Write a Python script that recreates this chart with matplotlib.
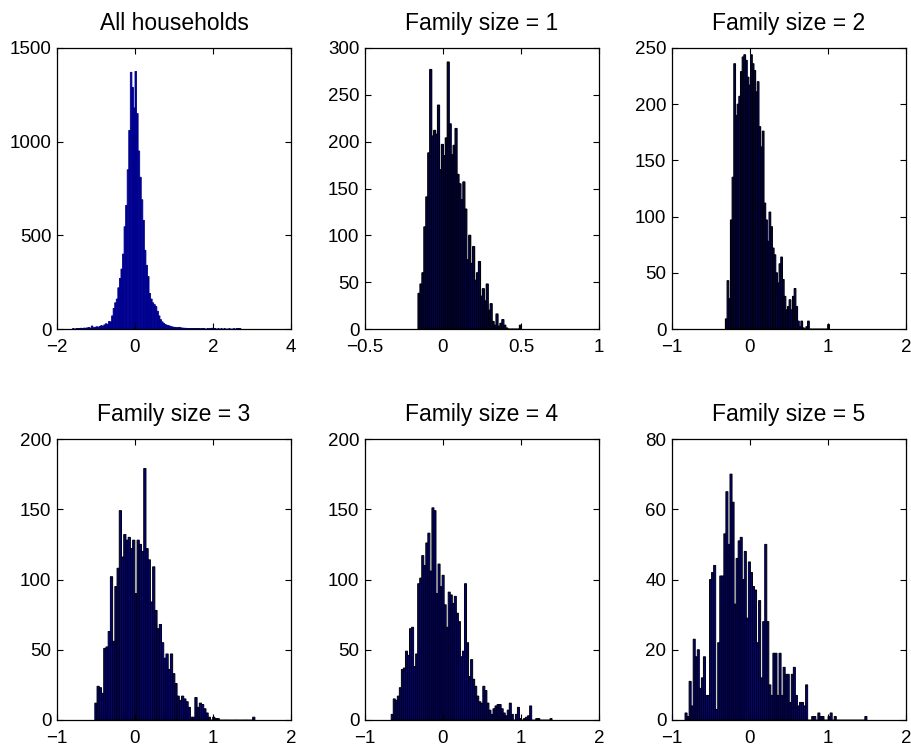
import numpy as np
import matplotlib
matplotlib.use("Agg")
import matplotlib.pyplot as plt

plt.rcParams['font.family'] = ['Liberation Sans', 'DejaVu Sans']

# ---------------- data (bin start, bin width, counts) ----------------
titles = ["All households", "Family size = 1", "Family size = 2",
          "Family size = 3", "Family size = 4", "Family size = 5"]

all_start, all_width = -1.60, 0.04
all_counts = [2, 0, 1, 3, 2, 4, 3, 5, 4, 6, 8, 5, 16, 7, 9, 12, 10, 14, 18, 15,
              22, 28, 25, 40, 38, 70, 110, 140, 160, 220, 270, 320, 400, 546, 660,
              850, 1060, 1370, 1290, 1180, 1375, 1150, 950, 810, 690, 580, 420, 340,
              280, 190, 160, 140, 130, 120, 95, 70, 50, 38, 30, 24, 20, 18, 15, 12,
              10, 9, 8, 7, 9, 6, 5, 4, 4, 3, 3, 2, 2, 3, 2, 1, 2, 1, 1, 2, 1, 0, 1,
              1, 2, 4, 2, 1, 0, 1, 0, 1, 0, 1, 0, 0, 1, 0, 0, 1, 0, 2, 3, 1]

fs1_start, fs1_width = -0.160, 0.0125
fs1_counts = [38, 48, 60, 109, 141, 188, 277, 206, 212, 208, 239, 170, 197, 185,
              204, 285, 219, 186, 196, 214, 165, 155, 138, 157, 128, 74, 100, 70,
              88, 52, 60, 72, 35, 43, 30, 48, 20, 27, 8, 4, 16, 3, 6, 10, 4, 1, 0,
              0, 0, 0, 0, 0, 4]

fs2_start, fs2_width = -0.315, 0.0215
fs2_counts = [9, 43, 27, 97, 135, 236, 190, 200, 207, 229, 242, 244, 239, 224,
              217, 244, 236, 230, 211, 220, 180, 162, 176, 112, 97, 78, 104, 91,
              72, 66, 50, 41, 58, 64, 44, 29, 17, 20, 26, 17, 29, 36, 20, 7, 2, 7,
              1, 0, 2, 7, 0, 0, 0, 0, 0, 0, 0, 0, 0, 0, 0, 4]

fs3_start, fs3_width = -0.515, 0.0285
fs3_counts = [12, 24, 23, 19, 51, 52, 63, 102, 56, 95, 108, 149, 116, 132, 128,
              130, 122, 128, 90, 128, 125, 120, 179, 122, 114, 84, 109, 78, 65, 68,
              55, 44, 47, 36, 47, 33, 26, 17, 14, 17, 15, 13, 9, 2, 2, 16, 9, 12,
              11, 8, 5, 2, 0, 2, 1, 1, 0, 0, 0, 0, 0, 0, 0, 0, 0, 0, 0, 0, 0, 0, 0,
              2]

fs4_start, fs4_width = -0.664, 0.0261
fs4_counts = [4, 15, 14, 17, 23, 36, 37, 49, 46, 65, 66, 38, 47, 97, 101, 117,
              110, 126, 133, 106, 151, 149, 90, 111, 95, 103, 82, 66, 91, 89, 83,
              88, 76, 70, 45, 49, 97, 55, 31, 43, 29, 24, 17, 13, 12, 24, 21, 12, 7,
              4, 8, 10, 11, 11, 8, 5, 3, 7, 12, 4, 0, 4, 9, 1, 0, 1, 2, 3, 10, 0, 0,
              1, 1, 0, 0, 0, 0, 0, 1]

fs5_start, fs5_width = -0.833, 0.0262
fs5_counts = [2, 1, 11, 4, 23, 18, 20, 9, 12, 18, 7, 7, 40, 42, 44, 3, 22, 41, 41,
              53, 65, 50, 70, 62, 33, 46, 51, 52, 40, 48, 29, 45, 42, 38, 37, 22,
              34, 12, 28, 50, 28, 10, 7, 19, 19, 7, 19, 7, 15, 13, 13, 5, 13, 15, 7,
              4, 5, 5, 4, 10, 0, 0, 1, 1, 0, 2, 1, 1, 0, 0, 1, 2, 0, 1, 0, 0, 0, 0,
              0, 0, 0, 0, 0, 0, 0, 0, 0, 0, 1]

xlims = [(-2, 4), (-0.5, 1), (-1, 2), (-1, 2), (-1, 2), (-1, 2)]
xticks = [[-2, 0, 2, 4], [-0.5, 0, 0.5, 1], [-1, 0, 1, 2],
          [-1, 0, 1, 2], [-1, 0, 1, 2], [-1, 0, 1, 2]]
ylims = [(0, 1500), (0, 300), (0, 250), (0, 200), (0, 200), (0, 80)]
yticks = [[0, 500, 1000, 1500], list(range(0, 301, 50)), list(range(0, 251, 50)),
          list(range(0, 201, 50)), list(range(0, 201, 50)), list(range(0, 81, 20))]

hists = [(all_start, all_width, all_counts), (fs1_start, fs1_width, fs1_counts),
         (fs2_start, fs2_width, fs2_counts), (fs3_start, fs3_width, fs3_counts),
         (fs4_start, fs4_width, fs4_counts), (fs5_start, fs5_width, fs5_counts)]
edge_widths = [0.6, 0.9, 0.8, 0.7, 0.7, 0.7]

# ---------------- figure ----------------
W, H = 912, 745
fig = plt.figure(figsize=(W / 100, H / 100), dpi=100)
navy = (0, 0, 0.5625)

col_left = [57, 365, 672]
ax_w = 234
row_top = [48, 439]
ax_h = 281

for k in range(6):
    r, c = divmod(k, 3)
    l = col_left[c] / W
    b = (H - row_top[r] - ax_h) / H
    ax = fig.add_axes([l, b, ax_w / W, ax_h / H])
    start, width, counts = hists[k]
    counts = np.array(counts, dtype=float)
    centers = start + width * (np.arange(len(counts)) + 0.5)
    edge = navy if k == 0 else 'black'
    bars = ax.bar(centers, counts, width=width, color=navy, edgecolor=edge,
                  linewidth=edge_widths[k])
    for p in bars:
        p.set_snap(False)
    ax.set_xlim(*xlims[k])
    ax.set_ylim(*ylims[k])
    ax.set_xticks(xticks[k])
    ax.set_xticklabels([('%g' % t).replace('-', '\u2212') for t in xticks[k]])
    ax.set_yticks(yticks[k])
    ax.set_yticklabels(['%g' % t for t in yticks[k]])
    ax.tick_params(direction='in', top=True, right=True, length=4, width=0.8,
                   labelsize=13.5)
    ax.tick_params(axis='x', pad=7)
    ax.tick_params(axis='y', pad=4)
    for s in ax.spines.values():
        s.set_linewidth(0.9)
    ax.set_title(titles[k], fontsize=16.5, pad=13)

fig.savefig("out.png", dpi=100)
